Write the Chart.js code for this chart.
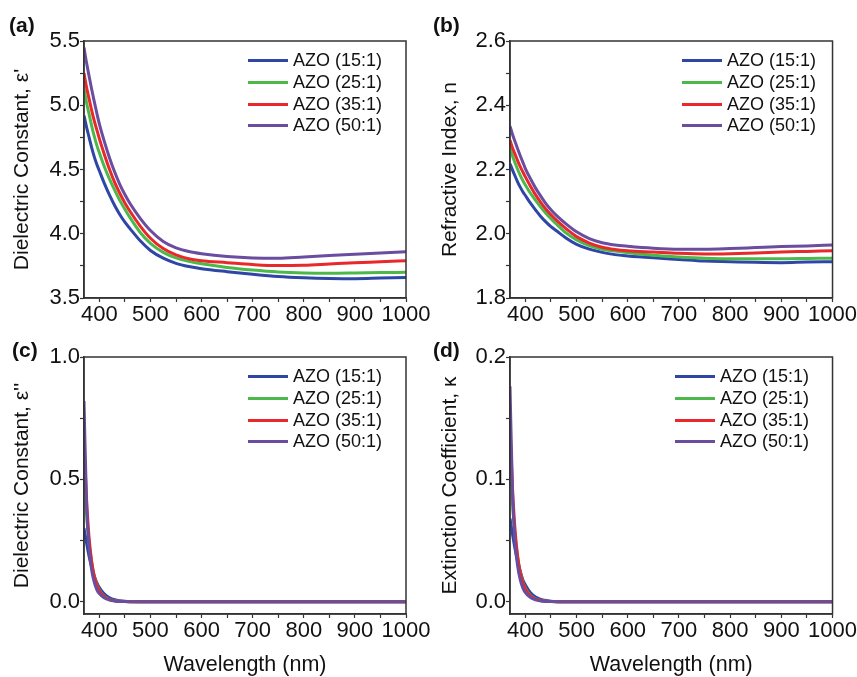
<!DOCTYPE html>
<html>
<head>
<meta charset="utf-8">
<script src="https://cdn.jsdelivr.net/npm/chart.js@4.4.0/dist/chart.umd.min.js"></script>
<style>
  body { margin: 0; background: #fff; }
  #wrap { position: relative; width: 857px; height: 677px; overflow: hidden;
          font-family: "Liberation Sans", Arial, sans-serif; color: #111; }
  canvas { position: absolute; }
  .tag { position: absolute; font-weight: bold; font-size: 21px; line-height: 21px; }
  .legend { position: absolute; font-size: 18px; }
  .row { display: flex; align-items: center; height: 21.7px; white-space: nowrap; }
  .sw { width: 40px; height: 3px; margin-right: 5px; }
</style>
</head>
<body>
<div id="wrap">
  <canvas id="cA" width="440" height="330" style="left:0;top:0"></canvas>
  <canvas id="cB" width="429" height="330" style="left:428px;top:0"></canvas>
  <canvas id="cC" width="440" height="347" style="left:0;top:330px"></canvas>
  <canvas id="cD" width="429" height="347" style="left:428px;top:330px"></canvas>
  <div class="tag" style="left:9px;top:14px">(a)</div>
  <div class="tag" style="left:433px;top:14px">(b)</div>
  <div class="tag" style="left:12px;top:339px">(c)</div>
  <div class="tag" style="left:433px;top:339px">(d)</div>
</div>
<script>
/* ---------- data ---------- */
const wavelengths = [370, 375, 380, 385, 390, 395, 400, 410, 420, 430, 440, 450, 460,
                     480, 500, 525, 550, 575, 600, 650, 700, 750, 800, 850, 900, 950, 1000];

const names  = ["AZO (15:1)", "AZO (25:1)", "AZO (35:1)", "AZO (50:1)"];
const colors = ["#2e46a6", "#4db84a", "#e8282b", "#6a4d9f"];

// (a) dielectric constant, real part
const blueE1   = [4.92, 4.83, 4.75, 4.67, 4.60, 4.54, 4.49, 4.39, 4.30, 4.22, 4.15, 4.09, 4.04,
                  3.945, 3.87, 3.81, 3.77, 3.745, 3.728, 3.705, 3.685, 3.668, 3.658, 3.652, 3.65, 3.655, 3.66];
const greenE1  = [5.13, 5.02, 4.93, 4.84, 4.76, 4.69, 4.63, 4.52, 4.425, 4.34, 4.26, 4.19, 4.125,
                  4.01, 3.925, 3.855, 3.812, 3.785, 3.766, 3.738, 3.718, 3.703, 3.695, 3.693, 3.695, 3.698, 3.70];
const redE1    = [5.25, 5.14, 5.05, 4.96, 4.88, 4.81, 4.74, 4.615, 4.50, 4.40, 4.315, 4.24, 4.175,
                  4.06, 3.965, 3.885, 3.835, 3.805, 3.79, 3.775, 3.76, 3.752, 3.755, 3.765, 3.775, 3.782, 3.79];
const purpleE1 = [5.45, 5.33, 5.225, 5.125, 5.03, 4.94, 4.855, 4.715, 4.59, 4.48, 4.385, 4.305, 4.235,
                  4.12, 4.025, 3.94, 3.89, 3.862, 3.845, 3.823, 3.812, 3.81, 3.82, 3.83, 3.84, 3.85, 3.86];

// (b) refractive index
const blueN   = [2.218, 2.198, 2.179, 2.161, 2.145, 2.131, 2.119, 2.095, 2.074, 2.054, 2.037, 2.022, 2.010,
                 1.986, 1.967, 1.952, 1.942, 1.935, 1.931, 1.925, 1.920, 1.915, 1.913, 1.911, 1.910, 1.912, 1.913];
const greenN  = [2.265, 2.241, 2.220, 2.200, 2.182, 2.166, 2.152, 2.126, 2.104, 2.083, 2.064, 2.047, 2.031,
                 2.002, 1.981, 1.963, 1.952, 1.946, 1.941, 1.933, 1.928, 1.924, 1.922, 1.922, 1.922, 1.923, 1.924];
const redN    = [2.291, 2.267, 2.247, 2.227, 2.209, 2.193, 2.177, 2.148, 2.121, 2.098, 2.077, 2.059, 2.043,
                 2.015, 1.991, 1.971, 1.958, 1.951, 1.947, 1.943, 1.939, 1.937, 1.938, 1.940, 1.943, 1.945, 1.947];
const purpleN = [2.335, 2.309, 2.286, 2.264, 2.243, 2.223, 2.203, 2.171, 2.142, 2.117, 2.094, 2.075, 2.058,
                 2.030, 2.006, 1.985, 1.972, 1.965, 1.961, 1.955, 1.952, 1.952, 1.954, 1.957, 1.960, 1.962, 1.965];

// (c) dielectric constant, imaginary part
const blueE2   = [0.30, 0.24, 0.185, 0.14, 0.105, 0.078, 0.058, 0.031, 0.016, 0.008, 0.004, 0.002, 0.001,
                  0.0002, 0, 0, 0, 0, 0, 0, 0, 0, 0, 0, 0, 0, 0];
const greenE2  = [0.52, 0.36, 0.24, 0.16, 0.105, 0.07, 0.047, 0.021, 0.01, 0.0045, 0.002, 0.001, 0.0005,
                  0, 0, 0, 0, 0, 0, 0, 0, 0, 0, 0, 0, 0, 0];
const redE2    = [0.65, 0.42, 0.26, 0.165, 0.105, 0.068, 0.045, 0.02, 0.009, 0.004, 0.002, 0.001, 0.0005,
                  0, 0, 0, 0, 0, 0, 0, 0, 0, 0, 0, 0, 0, 0];
const purpleE2 = [0.82, 0.40, 0.22, 0.13, 0.08, 0.05, 0.033, 0.015, 0.007, 0.003, 0.0015, 0.0007, 0.0003,
                  0, 0, 0, 0, 0, 0, 0, 0, 0, 0, 0, 0, 0, 0];

// (d) extinction coefficient
const blueK   = [0.068, 0.055, 0.043, 0.033, 0.025, 0.018, 0.0137, 0.0074, 0.0039, 0.002, 0.001, 0.0005, 0.00025,
                 0.00005, 0, 0, 0, 0, 0, 0, 0, 0, 0, 0, 0, 0, 0];
const greenK  = [0.115, 0.080, 0.054, 0.036, 0.024, 0.016, 0.011, 0.005, 0.0024, 0.0011, 0.0005, 0.00024, 0.0001,
                 0, 0, 0, 0, 0, 0, 0, 0, 0, 0, 0, 0, 0, 0];
const redK    = [0.142, 0.092, 0.058, 0.037, 0.024, 0.0155, 0.0104, 0.0047, 0.0021, 0.001, 0.0005, 0.00024, 0.0001,
                 0, 0, 0, 0, 0, 0, 0, 0, 0, 0, 0, 0, 0, 0];
const purpleK = [0.176, 0.088, 0.048, 0.029, 0.018, 0.0113, 0.0075, 0.0035, 0.0016, 0.0007, 0.0003, 0.00015, 0.0001,
                 0, 0, 0, 0, 0, 0, 0, 0, 0, 0, 0, 0, 0, 0];

// ticks
const xMajor = [400, 500, 600, 700, 800, 900, 1000];
const xMinor = [450, 550, 650, 750, 850, 950];

/* ---------- helpers ---------- */
const FONT = "'Liberation Sans', Arial, sans-serif";
const INK = "#111";
const AXIS = "#333";

// box around the plot area (top and right sides)
const frame = {
    id: "frame",
    afterDraw(c) {
        const a = c.chartArea, ctx = c.ctx;
        ctx.save();
        ctx.strokeStyle = AXIS;
        ctx.lineWidth = 1.5;
        ctx.strokeRect(a.left, a.top, a.right - a.left, a.bottom - a.top);
        ctx.restore();
    }
};

function makeChart(id, series, y, box) {
    const allX = xMajor.concat(xMinor).sort((p, q) => p - q);
    const allY = y.major.concat(y.minor).sort((p, q) => p - q);

    return new Chart(document.getElementById(id), {
        type: "line",
        data: {
            datasets: series.map((s, i) => ({
                label: names[i],
                data: wavelengths.map((w, k) => ({ x: w, y: s[k] })),
                borderColor: colors[i],
                borderWidth: 3,
                pointRadius: 0,
                fill: false,
                cubicInterpolationMode: "monotone",
                order: series.length - i
            }))
        },
        options: {
            responsive: false,
            animation: false,
            devicePixelRatio: 1,
            layout: { padding: { top: box.top, right: box.right, bottom: 0, left: 0 } },
            plugins: { legend: { display: false }, tooltip: { enabled: false } },
            scales: {
                x: {
                    type: "linear", min: 370, max: 1000,
                    afterBuildTicks: s => { s.ticks = allX.map(v => ({ value: v })); },
                    afterFit: s => { s.height = box.xh; },
                    ticks: {
                        autoSkip: false, maxRotation: 0, padding: 0, color: INK,
                        font: { size: 22, family: FONT },
                        callback: v => xMajor.includes(v) ? String(v) : ""
                    },
                    grid: { drawOnChartArea: false, tickLength: 4, tickColor: AXIS, tickWidth: 1.2 },
                    border: { color: AXIS, width: 1.5 },
                    title: {
                        display: box.xTitle, text: "Wavelength (nm)", color: INK,
                        font: { size: 21.5, family: FONT }, padding: { top: 0, bottom: -1 }
                    }
                },
                y: {
                    type: "linear", min: y.min, max: y.max,
                    afterBuildTicks: s => { s.ticks = allY.map(v => ({ value: v })); },
                    afterFit: s => { s.width = box.yw; },
                    ticks: {
                        autoSkip: false, padding: 0, color: INK,
                        font: { size: 22, family: FONT },
                        callback: v => y.major.includes(v) ? v.toFixed(1) : ""
                    },
                    grid: { drawOnChartArea: false, tickLength: 4, tickColor: AXIS, tickWidth: 1.2 },
                    border: { color: AXIS, width: 1.5 },
                    title: {
                        display: true, text: y.title, color: INK,
                        font: { size: 21, family: FONT }, padding: { top: 10, bottom: 0 }
                    }
                }
            }
        },
        plugins: [frame]
    });
}

function addLegend(left, top) {
    const box = document.createElement("div");
    box.className = "legend";
    box.style.left = left + "px";
    box.style.top = top + "px";
    names.forEach((n, i) => {
        const row = document.createElement("div");
        row.className = "row";
        row.innerHTML = `<span class="sw" style="background:${colors[i]}"></span><span>${n}</span>`;
        box.appendChild(row);
    });
    document.getElementById("wrap").appendChild(box);
}

/* ---------- panels ---------- */
makeChart("cA", [blueE1, greenE1, redE1, purpleE1],
    { min: 3.5, max: 5.5, major: [3.5, 4.0, 4.5, 5.0, 5.5], minor: [3.75, 4.25, 4.75, 5.25],
      title: "Dielectric Constant, \u03b5'" },
    { top: 41, right: 34, yw: 84, xh: 32, xTitle: false });

makeChart("cB", [blueN, greenN, redN, purpleN],
    { min: 1.8, max: 2.6, major: [1.8, 2.0, 2.2, 2.4, 2.6], minor: [1.9, 2.1, 2.3, 2.5],
      title: "Refractive Index, n" },
    { top: 41, right: 24, yw: 82, xh: 32, xTitle: false });

makeChart("cC", [blueE2, greenE2, redE2, purpleE2],
    { min: -0.05, max: 1.0, major: [0.0, 0.5, 1.0], minor: [0.25, 0.75],
      title: "Dielectric Constant, \u03b5''" },
    { top: 27, right: 34, yw: 84, xh: 63, xTitle: true });

makeChart("cD", [blueK, greenK, redK, purpleK],
    { min: -0.01, max: 0.2, major: [0.0, 0.1, 0.2], minor: [0.05, 0.15],
      title: "Extinction Coefficient, \u03ba" },
    { top: 27, right: 24, yw: 82, xh: 63, xTitle: true });

addLegend(248, 50);
addLegend(682, 50);
addLegend(248, 366);
addLegend(675, 366);
</script>
</body>
</html>
